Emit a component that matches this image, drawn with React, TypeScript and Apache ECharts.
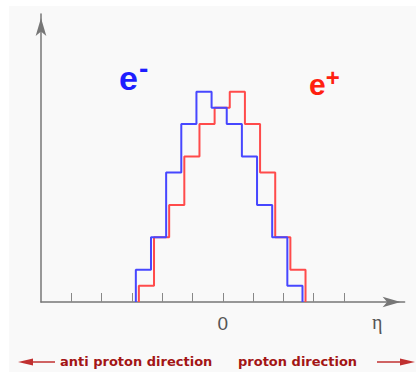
import React, { useEffect, useRef } from "react";
import * as echarts from "echarts";

// Histogram counts per bin (bin width = 0.5 tick unit)
const blueCounts = [2, 4, 8, 11, 13, 12, 11, 9, 6, 4, 1];
const redCounts = [1, 4, 6, 9, 11, 12, 13, 11, 8, 4, 2];
const blueStart = -2.87;
const redStart = -2.77;
const binWidth = 0.5;
const tickValues = [-5, -4, -3, -2, -1, 0, 1, 2, 3, 4];
const labelValues = [0];

function stepData(start: number, counts: number[]) {
  const pts: number[][] = [[start, 0]];
  counts.forEach((c, i) => pts.push([start + i * binWidth, c]));
  pts.push([start + counts.length * binWidth, 0]);
  return pts;
}

export default function App() {
  const ref = useRef<HTMLDivElement>(null);
  useEffect(() => {
    if (!ref.current) return;
    const chart = echarts.init(ref.current, undefined, { renderer: "svg" });
    const dark = "#a31515";
    chart.setOption({
      animation: false,
      backgroundColor: "#f9f9f9",
      grid: { left: 32, top: 8, right: 11.4, bottom: 70 },
      xAxis: {
        type: "value",
        min: -6,
        max: 6,
        splitLine: { show: false },
        axisLine: {
          show: true,
          onZero: false,
          symbol: ["none", "arrow"],
          symbolSize: [8, 18],
          symbolOffset: [0, -4],
          lineStyle: { color: "#777", width: 1.5 },
        },
        axisTick: {
          show: true,
          inside: true,
          length: 9,
          customValues: tickValues,
          lineStyle: { color: "#888", width: 1 },
        },
        axisLabel: {
          show: true,
          customValues: labelValues,
          margin: 12,
          fontSize: 19,
          color: "#555",
          fontFamily: "Liberation Sans",
        },
      },
      yAxis: {
        type: "value",
        min: 0,
        max: 17.8,
        splitLine: { show: false },
        axisLabel: { show: false },
        axisTick: { show: false },
        axisLine: {
          show: true,
          onZero: false,
          symbol: ["none", "arrow"],
          symbolSize: [8, 18],
          symbolOffset: [0, -4],
          lineStyle: { color: "#777", width: 1.5 },
        },
      },
      series: [
        {
          type: "line",
          name: "e+",
          step: "end",
          symbol: "none",
          data: stepData(redStart, redCounts),
          lineStyle: { color: "#ff4b4b", width: 2 },
          z: 2,
        },
        {
          type: "line",
          name: "e-",
          step: "end",
          symbol: "none",
          data: stepData(blueStart, blueCounts),
          lineStyle: { color: "#4747ff", width: 2 },
          z: 3,
        },
      ],
      graphic: [
        {
          type: "text",
          x: 110,
          y: 68.5,
          style: {
            text: "{e|e}{s|-}",
            verticalAlign: "middle",
            rich: {
              e: { fontSize: 34, fontWeight: "bold", fill: "#1e1eff", fontFamily: "Liberation Sans", verticalAlign: "bottom" },
              s: { fontSize: 28, fontWeight: "bold", fill: "#1e1eff", fontFamily: "Liberation Sans", verticalAlign: "bottom", padding: [0, 0, 12, 1] },
            },
          },
        },
        {
          type: "text",
          x: 300,
          y: 76,
          style: {
            text: "{e|e}{s|+}",
            verticalAlign: "middle",
            rich: {
              e: { fontSize: 30, fontWeight: "bold", fill: "#ff2010", fontFamily: "Liberation Sans", verticalAlign: "bottom" },
              s: { fontSize: 24, fontWeight: "bold", fill: "#ff2010", fontFamily: "Liberation Sans", verticalAlign: "bottom", padding: [0, 0, 10, 0] },
            },
          },
        },
        {
          type: "text",
          x: 363,
          y: 315.5,
          style: { text: "η", fontSize: 20, fill: "#555", fontFamily: "Liberation Serif", verticalAlign: "middle" },
        },
        {
          type: "text",
          x: 51,
          y: 355,
          style: { text: "anti proton direction", fontSize: 13, fontWeight: "bold", fill: dark, fontFamily: "DejaVu Sans", verticalAlign: "middle" },
        },
        {
          type: "text",
          x: 229,
          y: 355,
          style: { text: "proton direction", fontSize: 13, fontWeight: "bold", fill: dark, fontFamily: "DejaVu Sans", verticalAlign: "middle" },
        },
        { type: "line", shape: { x1: 22, y1: 356, x2: 46, y2: 356 }, style: { stroke: "#c03030", lineWidth: 1.5 } },
        { type: "polygon", shape: { points: [[9, 356], [24, 352.5], [24, 359.5]] }, style: { fill: "#c03030" } },
        { type: "line", shape: { x1: 368, y1: 356, x2: 394, y2: 356 }, style: { stroke: "#c03030", lineWidth: 1.5 } },
        { type: "polygon", shape: { points: [[406, 356], [391, 352.5], [391, 359.5]] }, style: { fill: "#c03030" } },
      ],
    });
    return () => chart.dispose();
  }, []);
  return (
    <div style={{ position: "absolute", left: 0, top: 0, width: 416, height: 372, background: "#fff" }}>
      <div ref={ref} style={{ position: "absolute", left: 9, top: 6, width: 407, height: 366 }} />
    </div>
  );
}
